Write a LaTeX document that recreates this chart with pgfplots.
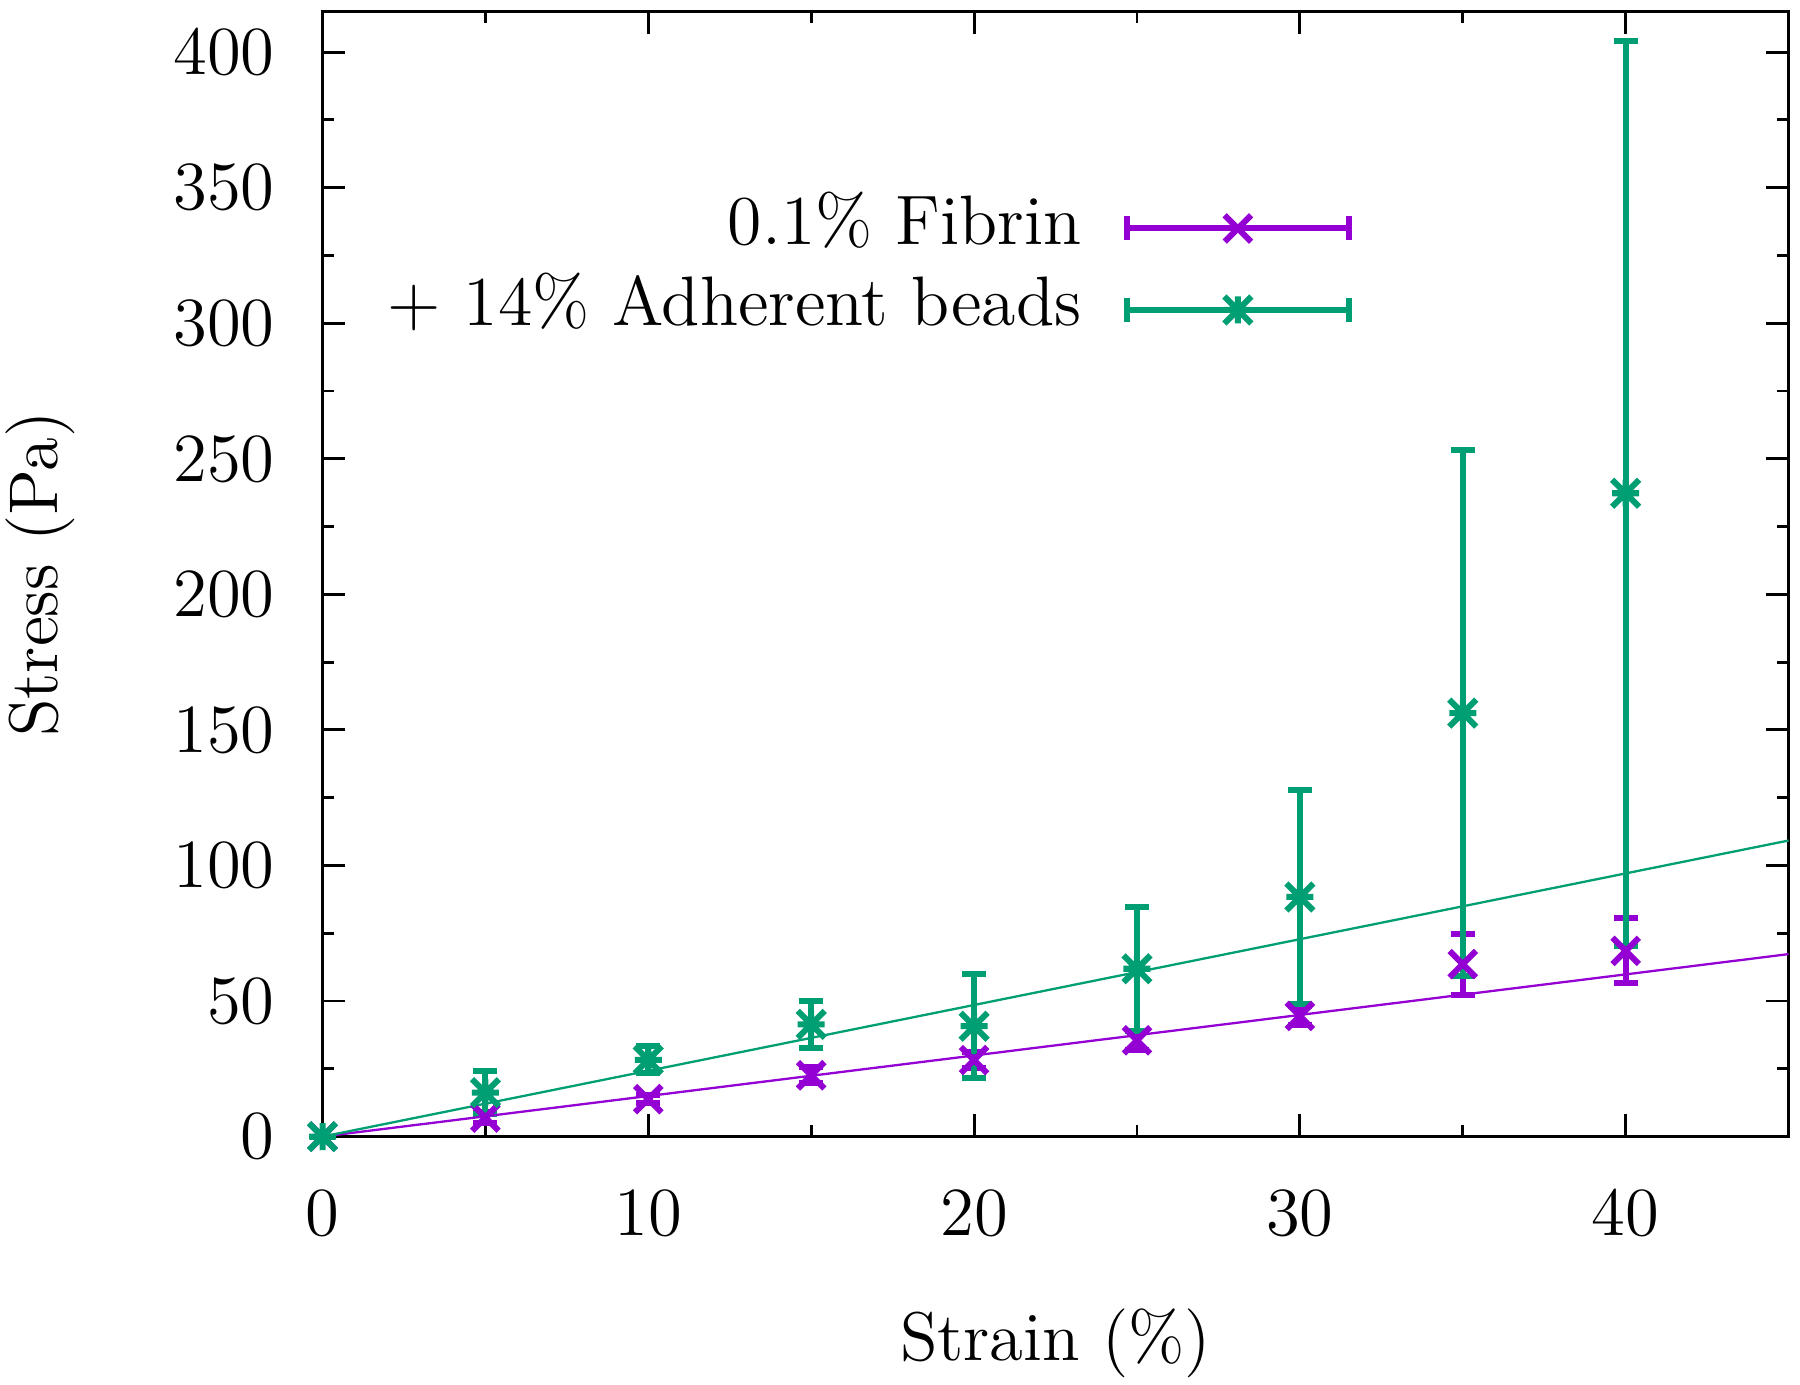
\documentclass[border=0pt]{standalone}
\usepackage{pgfplots}
\usepackage{pgfplotstable}
\pgfplotsset{compat=1.18}
\definecolor{gpviolet}{RGB}{148,0,211}
\definecolor{gpgreen}{RGB}{0,158,115}
\pgfdeclareplotmark{gpstar}{%
  \pgfpathmoveto{\pgfqpoint{-\pgfplotmarksize}{0pt}}\pgfpathlineto{\pgfqpoint{\pgfplotmarksize}{0pt}}%
  \pgfpathmoveto{\pgfqpoint{0pt}{-\pgfplotmarksize}}\pgfpathlineto{\pgfqpoint{0pt}{\pgfplotmarksize}}%
  \pgfpathmoveto{\pgfqpoint{-\pgfplotmarksize}{-\pgfplotmarksize}}\pgfpathlineto{\pgfqpoint{\pgfplotmarksize}{\pgfplotmarksize}}%
  \pgfpathmoveto{\pgfqpoint{-\pgfplotmarksize}{\pgfplotmarksize}}\pgfpathlineto{\pgfqpoint{\pgfplotmarksize}{-\pgfplotmarksize}}%
  \pgfusepathqstroke}
\pgfdeclareplotmark{gpx}{%
  \pgfpathmoveto{\pgfqpoint{-\pgfplotmarksize}{-\pgfplotmarksize}}\pgfpathlineto{\pgfqpoint{\pgfplotmarksize}{\pgfplotmarksize}}%
  \pgfpathmoveto{\pgfqpoint{-\pgfplotmarksize}{\pgfplotmarksize}}\pgfpathlineto{\pgfqpoint{\pgfplotmarksize}{-\pgfplotmarksize}}%
  \pgfusepathqstroke}
\pgfplotstableread{
x y e
0 0 0
5 7 2
10 13.8 1.5
15 22.6 3
20 28.2 3
25 35.5 3.5
30 44.5 3.5
35 63.6 11.2
40 68.5 12
}\fibrin
\pgfplotstableread{
x y e
0 0 0
5 16.2 8
10 28.3 5
15 41.4 8.6
20 40.7 19.1
25 61.9 22.8
30 88.4 39.4
35 156.2 97.1
40 237.3 166.9
}\beads
\begin{document}
\begin{tikzpicture}
\begin{axis}[
  scale only axis, width=255.4pt, height=196pt,
  xmin=0, xmax=45, ymin=0, ymax=415,
  xtick={0,10,...,40}, ytick={0,50,...,400},
  minor x tick num=1, minor y tick num=1,
  tick pos=both, tick align=inside,
  major tick length=4pt, minor tick length=2pt,
  every tick/.style={black, line width=0.5pt},
  axis line style={line width=0.55pt},
  tick label style={font=\large},
  xticklabel style={yshift=-6pt},
  yticklabel style={xshift=-4.8pt},
  xlabel={Strain (\%)}, ylabel={Stress (Pa)},
  every axis x label/.style={at={(rel axis cs:0.5,-0.1836)}, anchor=center, font=\large},
  every axis y label/.style={at={(rel axis cs:-0.1926,0.5)}, anchor=center, rotate=90, font=\large},
  clip=false,
  legend plot pos=right,
  legend cell align=right,
  legend style={draw=none, fill=none, at={(rel axis cs:0.7032,0.8444)}, anchor=north east,
    font=\fontsize{12.2}{14}\selectfont, inner sep=0pt,
    nodes={text height=8.5pt, text depth=3pt, inner sep=1.35pt},
    /tikz/every odd column/.append style={column sep=6pt}},
]
\addplot[gpviolet, line width=1.05pt, only marks, mark=gpx, mark size=2.3pt,
  mark options={line width=1.05pt, solid},
  legend image code/.code={%
    \draw[gpviolet, line width=1.05pt] (0pt,0pt) -- (38.8pt,0pt);
    \draw[gpviolet, line width=1.05pt] (0pt,-2.1pt) -- (0pt,2.1pt) (38.8pt,-2.1pt) -- (38.8pt,2.1pt);
    \draw[gpviolet, line width=1.05pt] plot[only marks, mark=gpx, mark size=2.3pt] coordinates {(19.4pt,0pt)};
  },
  error bars/.cd, y dir=both, y explicit,
  error bar style={line width=1.05pt, gpviolet},
  error mark options={rotate=90, mark size=2.1pt, line width=1.05pt, gpviolet}]
  table[x=x, y=y, y error=e] {\fibrin};
\addlegendentry{0.1\% Fibrin}
\addplot[gpgreen, line width=1.05pt, only marks, mark=gpstar, mark size=2.35pt,
  mark options={line width=1.05pt, solid},
  legend image code/.code={%
    \draw[gpgreen, line width=1.05pt] (0pt,0pt) -- (38.8pt,0pt);
    \draw[gpgreen, line width=1.05pt] (0pt,-2.1pt) -- (0pt,2.1pt) (38.8pt,-2.1pt) -- (38.8pt,2.1pt);
    \draw[gpgreen, line width=1.05pt] plot[only marks, mark=gpstar, mark size=2.35pt] coordinates {(19.4pt,0pt)};
  },
  error bars/.cd, y dir=both, y explicit,
  error bar style={line width=1.05pt, gpgreen},
  error mark options={rotate=90, mark size=2.1pt, line width=1.05pt, gpgreen}]
  table[x=x, y=y, y error=e] {\beads};
\addlegendentry{+ 14\% Adherent beads}
\addplot[gpviolet, line width=0.4pt, forget plot] coordinates {(0,0) (45,67.3)};
\addplot[gpgreen, line width=0.4pt, forget plot] coordinates {(0,0) (45,109.2)};
\coordinate (bbsw) at (rel axis cs:-0.220,-0.2204);
\coordinate (bbne) at (rel axis cs:1.0078,1.0102);
\end{axis}
\pgfresetboundingbox
\path[use as bounding box] (bbsw) rectangle (bbne);
\end{tikzpicture}
\end{document}
